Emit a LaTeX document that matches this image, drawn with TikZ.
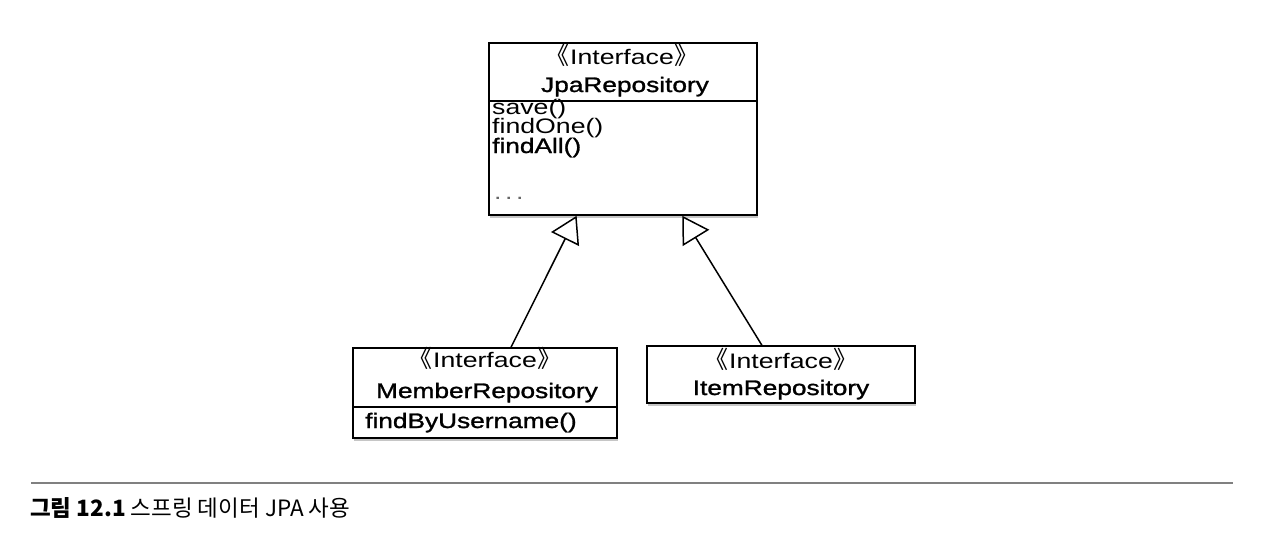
\documentclass[tikz,border=0pt]{standalone}
\usepackage{fontspec}
\setmainfont{Liberation Sans}
\newfontfamily\umlr[FakeStretch=1.27]{Liberation Sans}
\newfontfamily\umlb[FakeStretch=1.25, FakeBold=1.3]{Liberation Sans}
\newfontfamily\kr{Noto Sans CJK KR}
\newcommand\stL{{\kr\fontsize{24pt}{24pt}\selectfont 《}\kern1pt}
\newcommand\stR{\kern1pt{\kr\fontsize{24pt}{24pt}\selectfont 》}}
\usetikzlibrary{arrows.meta,shadows,calc}
\tikzset{
  umlbox/.style={draw, line width=1.6pt, fill=white, inner sep=0pt,
    drop shadow={shadow xshift=1pt, shadow yshift=-2.5pt, opacity=0.45}},
  divider/.style={line width=1.6pt},
  stereo/.style={inner sep=0pt, anchor=base, font={\umlr\fontsize{21pt}{21pt}\selectfont}},
  cname/.style={inner sep=0pt, anchor=base, font={\umlb\fontsize{21pt}{21pt}\selectfont}},
  meth/.style={inner sep=0pt, anchor=base west, font={\umlr\fontsize{21pt}{21pt}\selectfont}},
  bmeth/.style={inner sep=0pt, anchor=base west, font={\umlb\fontsize{21pt}{21pt}\selectfont}},
  inherit/.style={line width=1.5pt, -{Triangle[length=26pt, width=31pt, fill=white]}},
  rule/.style={line width=2pt, draw=black!50},
  caption/.style={inner sep=0pt, anchor=base west, font={\kr\fontsize{22.5pt}{22.5pt}\selectfont}}
}
\begin{document}
\begin{tikzpicture}[x=1pt, y=-1pt]
\useasboundingbox (0,0) rectangle (1282,542);

% JpaRepository
\node[umlbox, minimum width=268pt, minimum height=172pt] (jpa) at (623,129) {};
\draw[divider] (jpa.west |- 0,101) -- (jpa.east |- 0,101);
\node[stereo] (jpaS) at (622,64) {\stL Interface\stR};
\node[cname] (jpaN) at (625,92) {JpaRepository};
\node[meth] (jm1) at (492,114) {save()};
\node[meth] (jm2) at (492,133.5) {findOne()};
\node[bmeth] (jm3) at (492,153) {findAll()};
\node[meth, text=black!60] (jm4) at (494,199) {.\,.\,.};

% MemberRepository
\node[umlbox, minimum width=264pt, minimum height=90pt] (member) at (485,393) {};
\draw[divider] (member.west |- 0,407) -- (member.east |- 0,407);
\node[stereo] (memS) at (485,367) {\stL Interface\stR};
\node[cname] (memN) at (487,398) {MemberRepository};
\node[bmeth] (mm1) at (365,428) {findByUsername()};

% ItemRepository
\node[umlbox, minimum width=268pt, minimum height=57pt] (item) at (781,374.5) {};
\node[stereo] (itmS) at (781,368) {\stL Interface\stR};
\node[cname] (itmN) at (781,395) {ItemRepository};

% generalisations
\coordinate (jpaL) at ($(jpa.south west)!0.328!(jpa.south east)$);
\coordinate (jpaR) at ($(jpa.south west)!0.72!(jpa.south east)$);
\coordinate (memT) at ($(member.north west)!0.598!(member.north east)$);
\coordinate (itmT) at ($(item.north west)!0.429!(item.north east)$);
\draw[inherit] (memT) -- (jpaL);
\draw[inherit] (itmT) -- (jpaR);

% caption
\coordinate (ruleL) at (31,483);
\coordinate (ruleR) at (1233,483);
\draw[rule] (ruleL) -- (ruleR);
\node[caption] (cap) at (30,516) {{\bfseries 그림 12.1} 스프링 데이터 JPA 사용};
\end{tikzpicture}
\end{document}
